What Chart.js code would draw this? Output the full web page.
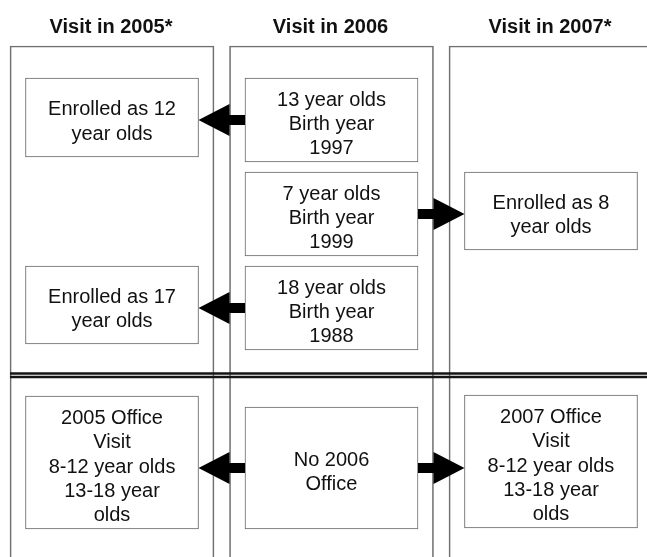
<!DOCTYPE html>
<html>
<head>
<meta charset="utf-8">
<title>Visit schedule</title>
<script src="https://cdn.jsdelivr.net/npm/chart.js@4.4.1/dist/chart.umd.min.js"></script>
<style>
    html, body { margin: 0; padding: 0; background: #ffffff; }
    #wrap { position: relative; width: 647px; height: 557px; }
</style>
</head>
<body>
<div id="wrap"><canvas id="flowChart"></canvas></div>
<script>
// column headers (one panel per visit year)
const columns = ['Visit in 2005*', 'Visit in 2006', 'Visit in 2007*'];
const panelTop = 46;

// boxes: text, column index, top and bottom (in y-axis units)
const boxText = [
    'Enrolled as 12\nyear olds',
    '13 year olds\nBirth year\n1997',
    '7 year olds\nBirth year\n1999',
    'Enrolled as 8\nyear olds',
    'Enrolled as 17\nyear olds',
    '18 year olds\nBirth year\n1988',
    '2005 Office\nVisit\n8-12 year olds\n13-18 year\nolds',
    'No 2006\nOffice',
    '2007 Office\nVisit\n8-12 year olds\n13-18 year\nolds'
];
const boxCol = [0, 1, 1, 2, 0, 1, 0, 1, 2];
const boxTop = [78, 78, 172, 172, 266, 266, 396, 407, 395];
const boxBottom = [157, 162, 256, 250, 344, 350, 529, 529, 528];

// arrows: [from box, to box]
const arrows = [[1, 0], [2, 3], [5, 4], [7, 6], [7, 8]];

// double line between cohort rows and office visits
const dividerY = [373.5, 377];

let chart;

const FONT = '"Liberation Sans", Arial, sans-serif';

const diagramPlugin = {
    id: 'diagram',
    afterDatasetsDraw(c) {
        const ctx = c.ctx;
        const x = c.scales.x;
        const y = c.scales.y;
        const boxes = c.getDatasetMeta(0).data;
        const panels = c.getDatasetMeta(1).data;

        ctx.save();

        // divider
        const left = panels[0].x - panels[0].width / 2;
        ctx.strokeStyle = '#151515';
        ctx.lineWidth = 2.3;
        dividerY.forEach(v => {
            ctx.beginPath();
            ctx.moveTo(left, y.getPixelForValue(v));
            ctx.lineTo(c.chartArea.right, y.getPixelForValue(v));
            ctx.stroke();
        });

        // arrows
        ctx.fillStyle = '#000000';
        arrows.forEach(a => {
            const from = boxes[a[0]];
            const to = boxes[a[1]];
            const dir = to.x > from.x ? 1 : -1;
            const cy = (from.y + from.base) / 2;
            const xs = from.x + dir * from.width / 2;
            const xt = to.x - dir * to.width / 2;
            const xb = xt - dir * 31;
            ctx.beginPath();
            ctx.moveTo(xs, cy - 5);
            ctx.lineTo(xb, cy - 5);
            ctx.lineTo(xb, cy - 16);
            ctx.lineTo(xt, cy);
            ctx.lineTo(xb, cy + 16);
            ctx.lineTo(xb, cy + 5);
            ctx.lineTo(xs, cy + 5);
            ctx.closePath();
            ctx.fill();
        });

        // headers
        ctx.fillStyle = '#111111';
        ctx.textAlign = 'center';
        ctx.textBaseline = 'alphabetic';
        ctx.font = 'bold 20px ' + FONT;
        columns.forEach((t, i) => {
            ctx.fillText(t, x.getPixelForValue(i) - 1, 33);
        });

        // box texts
        ctx.font = '20px ' + FONT;
        boxes.forEach((el, i) => {
            const lines = boxText[i].split('\n');
            const cy = (el.y + el.base) / 2;
            const lh = 24.3;
            lines.forEach((line, j) => {
                ctx.fillText(line, el.x, cy + (j - (lines.length - 1) / 2) * lh + 10);
            });
        });

        ctx.restore();
    }
};

function initChart() {
    const ctx = document.getElementById('flowChart').getContext('2d');
    chart = new Chart(ctx, {
        type: 'bar',
        data: {
            datasets: [{
                label: 'boxes',
                data: boxText.map((t, i) => ({ x: boxCol[i], y: [boxTop[i], boxBottom[i]] })),
                backgroundColor: '#ffffff',
                borderColor: '#666666',
                borderWidth: 1,
                borderSkipped: false,
                barThickness: 173,
                grouped: false
            }, {
                label: 'panels',
                data: columns.map((c, i) => ({ x: i, y: [panelTop, 600] })),
                backgroundColor: 'rgba(0,0,0,0)',
                borderColor: '#707070',
                borderWidth: 1,
                borderSkipped: false,
                barThickness: 204,
                grouped: false
            }]
        },
        options: {
            responsive: true,
            maintainAspectRatio: false,
            animation: false,
            events: [],
            layout: { padding: 0 },
            plugins: {
                legend: { display: false },
                tooltip: { enabled: false }
            },
            scales: {
                x: {
                    type: 'linear',
                    display: false,
                    offset: false,
                    min: -0.5103,
                    max: 2.4374
                },
                y: {
                    type: 'linear',
                    display: false,
                    reverse: true,
                    min: 0,
                    max: 557
                }
            }
        },
        plugins: [diagramPlugin]
    });
}

window.onload = function () {
    initChart();
};
</script>
</body>
</html>
